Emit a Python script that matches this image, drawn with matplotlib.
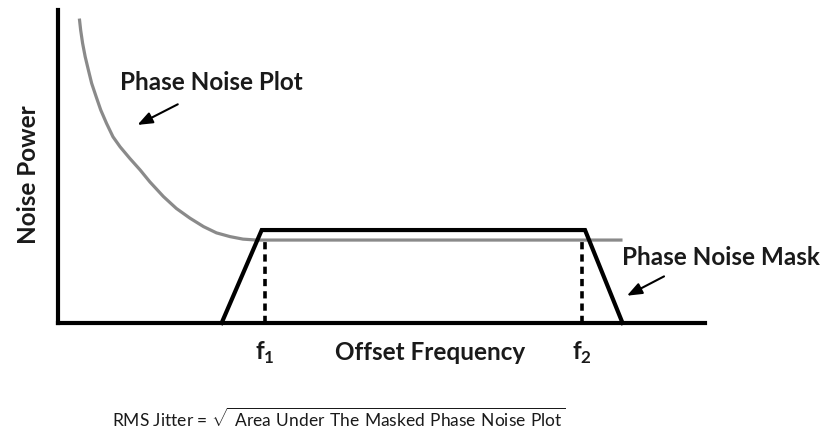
import matplotlib
matplotlib.use("Agg")
import matplotlib.pyplot as plt

plt.rcParams['font.family'] = ['Lato', 'DejaVu Sans']
plt.rcParams['mathtext.fontset'] = 'custom'
plt.rcParams['mathtext.rm'] = 'Lato'
plt.rcParams['mathtext.bf'] = 'Lato:bold'

# phase noise curve (offset frequency, noise power), arbitrary units
noise_x = [0.33, 0.35, 0.38, 0.42, 0.47, 0.52, 0.59, 0.66, 0.75, 0.85, 0.96,
           1.11, 1.27, 1.42, 1.63, 1.83, 2.04, 2.25, 2.45, 2.66, 2.86, 3.07, 8.73]
noise_y = [9.73, 9.36, 8.94, 8.51, 8.08, 7.66, 7.23, 6.81, 6.38, 5.95, 5.63,
           5.26, 4.89, 4.51, 4.04, 3.66, 3.35, 3.08, 2.88, 2.76, 2.68, 2.65, 2.65]

# phase noise mask (trapezoid)
mask_x = [2.53, 3.15, 8.15, 8.73]
mask_y = [0.0, 2.97, 2.97, 0.0]

# integration limits
f_pos = [3.2, 8.1]
f_labels = [r'$\mathbf{f}_\mathbf{1}$', r'$\mathbf{f}_\mathbf{2}$']
f_top = 2.65

fig = plt.figure(figsize=(8.29, 4.4), dpi=100)
ax = fig.add_axes([0.070, 0.266, 0.780, 0.711])
ax.set_xlim(0, 10)
ax.set_ylim(0, 10)
for side in ['top', 'right']:
    ax.spines[side].set_visible(False)
for side in ['left', 'bottom']:
    ax.spines[side].set_linewidth(3)
    ax.spines[side].set_color('black')
ax.set_xticks([])
ax.set_yticks([])

ax.plot(noise_x, noise_y, color='#8a8a8a', lw=2.3, solid_capstyle='butt',
        solid_joinstyle='round', zorder=2)
ax.plot(mask_x, mask_y, color='black', lw=3, solid_joinstyle='miter', zorder=3, clip_on=False)
for x in f_pos:
    ax.plot([x, x], [0, f_top], color='black', lw=2.6, linestyle=(0, (2, 1.4)), zorder=3)

txt = dict(fontsize=17.5, fontweight='bold', color='#1a1a1a')
for x, lab in zip(f_pos, f_labels):
    ax.text(x, -0.95, lab, ha='center', va='center', clip_on=False, **txt)
ax.text(5.75, -0.95, 'Offset Frequency', ha='center', va='center', **txt)

arrow = dict(arrowstyle='-|>,head_length=0.9,head_width=0.35', color='black', lw=1.5)
ax.annotate('', xy=(1.19, 6.29), xytext=(1.89, 7.03), arrowprops=arrow)
ax.text(0.96, 7.70, 'Phase Noise Plot', ha='left', va='center', **txt)

ax.annotate('', xy=(8.76, 0.83), xytext=(9.41, 1.53), arrowprops=arrow)
ax.text(8.72, 2.08, 'Phase Noise Mask', ha='left', va='center', clip_on=False, **txt)

fig.text(0.034, 0.602, 'Noise Power', rotation=90, ha='center', va='center', **txt)

fig.text(0.135, 0.05, r'RMS Jitter = $\sqrt{\mathrm{\ Area\ Under\ The\ Masked\ Phase\ Noise\ Plot}}$',
         ha='left', va='center', fontsize=12.5, color='#1a1a1a')

fig.savefig('out.png', dpi=100)
